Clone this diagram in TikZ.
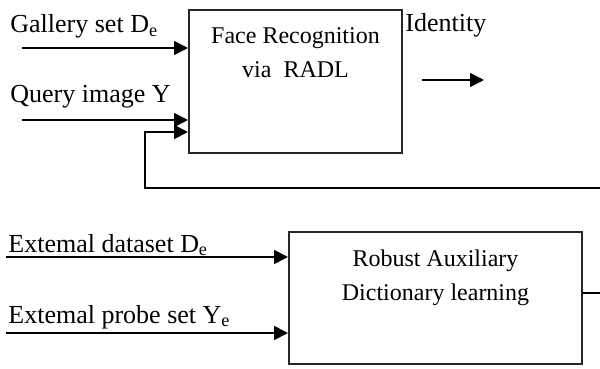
\documentclass[tikz,border=0pt]{standalone}
\usepackage{fontspec}
\setmainfont{Liberation Serif}
\usetikzlibrary{arrows.meta,positioning}

\begin{document}
\begin{tikzpicture}[x=0.5pt,y=-0.5pt,
  box/.style={draw=black!85,line width=1pt,inner sep=0pt},
  flow/.style={black,line width=0.9pt,-{Triangle[length=7pt,width=7pt]}},
  lbl/.style={inner sep=0pt,font=\fontsize{13}{17}\selectfont},
  blbl/.style={inner sep=0pt,font=\fontsize{12}{17}\selectfont}]
  \useasboundingbox (0,0) rectangle (600,369);
  % blocks
  \node[box,minimum width=106.5pt,minimum height=71.5pt] (frec) at (295.5,81.5) {};
  \node[box,minimum width=146.5pt,minimum height=66pt] (radl) at (435.5,298) {};
  \node[blbl,align=center,anchor=north] (frectxt) at ([yshift=-9pt]frec.north)
    {Face Recognition\\via\ \ RADL};
  \node[blbl,align=center,anchor=north] (radltxt) at ([yshift=-9pt]radl.north)
    {Robust Auxiliary\\Dictionary learning};
  % labels
  \node[lbl,anchor=base west] (gal)   at (10,33)  {Gallery\ set D\textsubscript{e}};
  \node[lbl,anchor=base west] (query) at (10,103) {Query image Y};
  \node[lbl,anchor=base west] (ident) at (405,32) {Identity};
  \node[lbl,anchor=base west] (extd)  at (8,252)  {Extemal dataset D\textsubscript{e}};
  \node[lbl,anchor=base west] (extp)  at (8,323)  {Extemal probe set Y\textsubscript{e}};
  % free ends
  \coordinate (galin)   at (22,48);
  \coordinate (queryin) at (22,120);
  \coordinate (extdin)  at (6,257);
  \coordinate (extpin)  at (6,333);
  \coordinate (ida)     at (422,80);
  \coordinate (idb)     at (484,80);
  \coordinate (fbr)     at (600,188);
  \coordinate (fbl)     at (145,188);
  \coordinate (outr)    at (600,293);
  % connectors
  \draw[flow] (galin) -- (galin -| frec.west);
  \draw[flow] (queryin) -- (queryin -| frec.west);
  \draw[flow] (fbr) -- (fbl) |- (frec.west |- 0,132);
  \draw[flow] (ida) -- (idb);
  \draw[flow] (extdin) -- (extdin -| radl.west);
  \draw[flow] (extpin) -- (extpin -| radl.west);
  \draw[black,line width=0.9pt] (radl.east |- outr) -- (outr);
\end{tikzpicture}
\end{document}
